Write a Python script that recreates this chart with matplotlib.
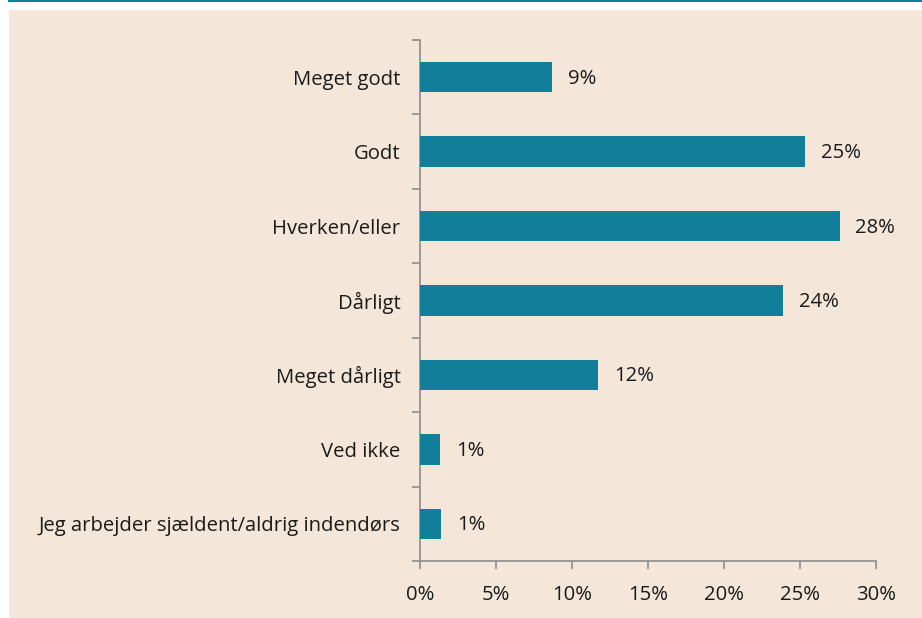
import matplotlib
matplotlib.use("Agg")
import matplotlib.pyplot as plt
from matplotlib.patches import Rectangle
from matplotlib.lines import Line2D

categories = ["Meget godt", "Godt", "Hverken/eller", "Dårligt", "Meget dårligt",
              "Ved ikke", "Jeg arbejder sjældent/aldrig indendørs"]
values = [8.7, 25.3, 27.6, 23.9, 11.7, 1.3, 1.4]
labels = ["9%", "25%", "28%", "24%", "12%", "1%", "1%"]
xticks = [0, 5, 10, 15, 20, 25, 30]
xticklabels = ["0%", "5%", "10%", "15%", "20%", "25%", "30%"]

BG = "#F4E7DA"
TEAL = "#117E9A"
AXC = "#8C8C8C"
TXT = "#1A1A1A"
FS = 14.6

plt.rcParams['font.family'] = ['Open Sans', 'DejaVu Sans']

W, H = 922, 618
fig = plt.figure(figsize=(W / 100, H / 100), dpi=100)
fig.patch.set_facecolor("white")
# beige panel
fig.patches.append(Rectangle((9 / W, 0), 1 - 9 / W, (H - 10) / H, transform=fig.transFigure,
                             facecolor=BG, edgecolor="none", zorder=-5))
fig.lines.append(Line2D([9 / W, 1], [1 - 1 / H, 1 - 1 / H], transform=fig.transFigure,
                        color=TEAL, linewidth=1.5, zorder=-5))

left, right = 420, 876
top, bottom = 40, 561
ax = fig.add_axes([left / W, 1 - bottom / H, (right - left) / W, (bottom - top) / H])
ax.set_facecolor("none")
ax.set_zorder(2)

n = len(categories)
ypos = list(range(n))
ax.barh(ypos, values, height=0.41, color=TEAL, zorder=3)
ax.set_xlim(0, 30)
ax.set_ylim(n - 0.5, -0.5)

for y, v, lab in zip(ypos, values, labels):
    ax.text(v + 1.05, y + 0.02, lab, va="center", ha="left", fontsize=FS, color=TXT)

ax.set_xticks(xticks)
ax.set_xticklabels(xticklabels, fontsize=FS, color=TXT)
ax.set_yticks(ypos)
ax.set_yticklabels(categories, fontsize=FS, color=TXT)
ax.tick_params(axis="y", length=0, pad=14)
ax.tick_params(axis="x", length=6, width=1.2, color=AXC, direction="out", pad=11)
# category boundary ticks
ax.set_yticks([i - 0.5 for i in range(n + 1)], minor=True)
ax.tick_params(axis="y", which="minor", length=6, width=1.2, color=AXC, direction="out")

for s in ["top", "right"]:
    ax.spines[s].set_visible(False)
for s in ["left", "bottom"]:
    ax.spines[s].set_color(AXC)
    ax.spines[s].set_linewidth(1.2)

fig.savefig("out.png", dpi=100, facecolor=fig.get_facecolor())
